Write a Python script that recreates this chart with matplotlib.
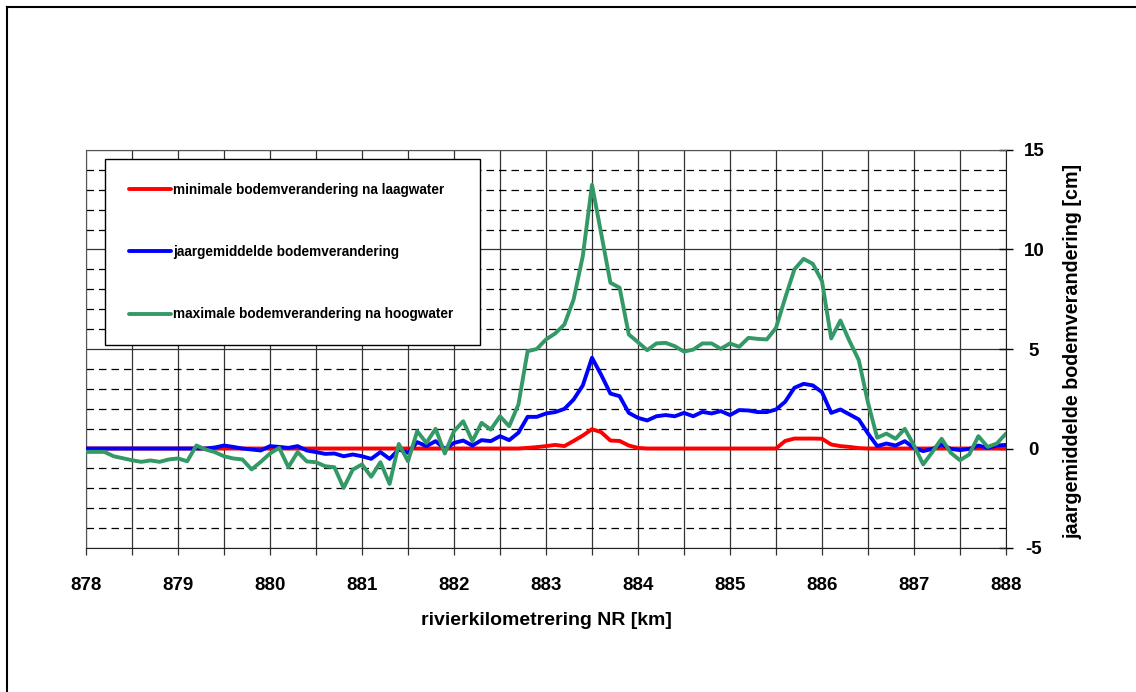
import numpy as np
import matplotlib
matplotlib.use('Agg')
import matplotlib.pyplot as plt
from matplotlib.ticker import MultipleLocator
from matplotlib.lines import Line2D

plt.rcParams['font.family'] = ['Liberation Sans', 'DejaVu Sans']
plt.rcParams['font.weight'] = 'bold'
plt.rcParams['axes.unicode_minus'] = False

# rivierkilometers, every 100 m
km = np.round(np.arange(8780, 8881) / 10, 1)

# bed level change [cm] per kilometre point
minimaal = [0.0] * 48 + [
    0.03, 0.07, 0.12, 0.18, 0.12, 0.38, 0.65, 0.97, 0.82, 0.40,
    0.38, 0.15, 0.03] + [0.0] * 15 + [
    0.38, 0.50, 0.50, 0.50, 0.49, 0.20, 0.12, 0.08, 0.02] + [0.0] * 16

jaargemiddeld = [0.0] * 14 + [
    0.05, 0.15, 0.08, 0.00, -0.05, -0.10, 0.12, 0.08, 0.03, 0.12,
    -0.10, -0.18, -0.27, -0.25, -0.39, -0.30, -0.39, -0.52, -0.18, -0.52,
    -0.05, -0.22, 0.32, 0.12, 0.37, -0.02, 0.28, 0.40, 0.15, 0.42,
    0.37, 0.62, 0.42, 0.79, 1.59, 1.59, 1.76, 1.83, 1.99, 2.46,
    3.17, 4.56, 3.70, 2.76, 2.63, 1.79, 1.54, 1.41, 1.62, 1.68,
    1.62, 1.79, 1.62, 1.84, 1.76, 1.88, 1.68, 1.93, 1.91, 1.83,
    1.83, 1.96, 2.35, 3.05, 3.25, 3.17, 2.83, 1.79, 1.96, 1.71,
    1.46, 0.75, 0.12, 0.25, 0.15, 0.37, 0.03, -0.13, -0.02, 0.20,
    -0.02, -0.08, -0.02, 0.15, 0.03, 0.15, 0.18]

maximaal = [
    -0.17, -0.17, -0.17, -0.39, -0.49, -0.59, -0.67, -0.60, -0.67, -0.55,
    -0.50, -0.64, 0.15, -0.05, -0.18, -0.39, -0.50, -0.55, -1.05, -0.67,
    -0.25, 0.03, -0.94, -0.18, -0.65, -0.69, -0.89, -0.94, -1.98, -1.06,
    -0.80, -1.42, -0.69, -1.78, 0.23, -0.64, 0.87, 0.28, 0.99, -0.25,
    0.87, 1.37, 0.37, 1.29, 0.95, 1.62, 1.12, 2.21, 4.89, 5.00,
    5.48, 5.78, 6.23, 7.49, 9.67, 13.25, 10.80, 8.33, 8.08, 5.73,
    5.34, 4.94, 5.28, 5.31, 5.14, 4.87, 4.97, 5.28, 5.28, 5.01,
    5.28, 5.11, 5.56, 5.51, 5.48, 6.06, 7.57, 9.00, 9.53, 9.28,
    8.41, 5.53, 6.43, 5.39, 4.44, 2.30, 0.54, 0.75, 0.49, 0.99,
    0.15, -0.80, -0.17, 0.49, -0.22, -0.59, -0.30, 0.62, 0.08, 0.25,
    0.75]

labels = ['minimale bodemverandering na laagwater',
          'jaargemiddelde bodemverandering',
          'maximale bodemverandering na hoogwater']
colors = ['#ff0000', '#0000ff', '#339966']

W, H = 1136, 692
fig = plt.figure(figsize=(W / 100, H / 100), dpi=100)
ax = fig.add_axes([86 / W, 1 - 548 / H, 920 / W, 398 / H])

for serie, lab, col in zip([minimaal, jaargemiddeld, maximaal], labels, colors):
    ax.plot(km, serie, color=col, lw=2.8, label=lab, zorder=3,
            solid_joinstyle='round', solid_capstyle='round')

ax.set_xlim(878, 888)
ax.set_ylim(-5, 15)

# grid: solid every 0.5 km and every 5 cm, dashed every 1 cm
ax.xaxis.set_major_locator(MultipleLocator(1))
ax.xaxis.set_minor_locator(MultipleLocator(0.5))
ax.yaxis.set_major_locator(MultipleLocator(5))
ax.yaxis.set_minor_locator(MultipleLocator(1))
ax.grid(which='both', axis='x', color='#333333', lw=0.9, zorder=1)
ax.grid(which='major', axis='y', color='#333333', lw=0.9, zorder=1)
ax.grid(which='minor', axis='y', color='black', lw=0.9, ls=(0, (6, 4)), zorder=1)
ax.set_axisbelow(True)

ax.yaxis.tick_right()
ax.yaxis.set_label_position('right')
ax.tick_params(axis='x', which='both', direction='out', length=5, width=0.9,
               pad=16, labelsize=13.5, color='#333333')
ax.tick_params(axis='y', which='major', direction='inout', length=10, width=1,
               pad=15, labelsize=13.5)
ax.tick_params(axis='y', which='minor', length=0)
for lab in ax.get_yticklabels():
    lab.set_ha('center')

for side in ['left', 'top']:
    ax.spines[side].set_color('#555555')
for side in ['right', 'bottom']:
    ax.spines[side].set_color('#222222')

ax.set_xlabel('rivierkilometrering NR [km]', fontsize=14, fontweight='bold')
ax.xaxis.set_label_coords(0.501, -0.181)
ax.xaxis.label.set_va('center')
ax.set_ylabel('jaargemiddelde bodemverandering [cm]', fontsize=14.2,
              fontweight='bold')
ax.yaxis.set_label_coords(1.0728, 0.495)
ax.yaxis.label.set_va('center')

leg = ax.legend(loc='upper left', bbox_to_anchor=(19 / 920, 0, 375 / 920, 389 / 398),
                mode='expand', borderaxespad=0, fontsize=9.8, handlelength=3.1,
                handletextpad=0.15, labelspacing=3.55, borderpad=1.75,
                fancybox=False, framealpha=1, edgecolor='black')
leg.get_frame().set_linewidth(1.0)
leg.set_zorder(5)

# outer frame (left and top edge)
fig.add_artist(Line2D([7 / W, 7 / W], [0, 1 - 7 / H], transform=fig.transFigure,
                      color='black', lw=1.5))
fig.add_artist(Line2D([7 / W, 1], [1 - 7 / H, 1 - 7 / H], transform=fig.transFigure,
                      color='black', lw=1.5))

fig.savefig('out.png', dpi=100, facecolor='white')
